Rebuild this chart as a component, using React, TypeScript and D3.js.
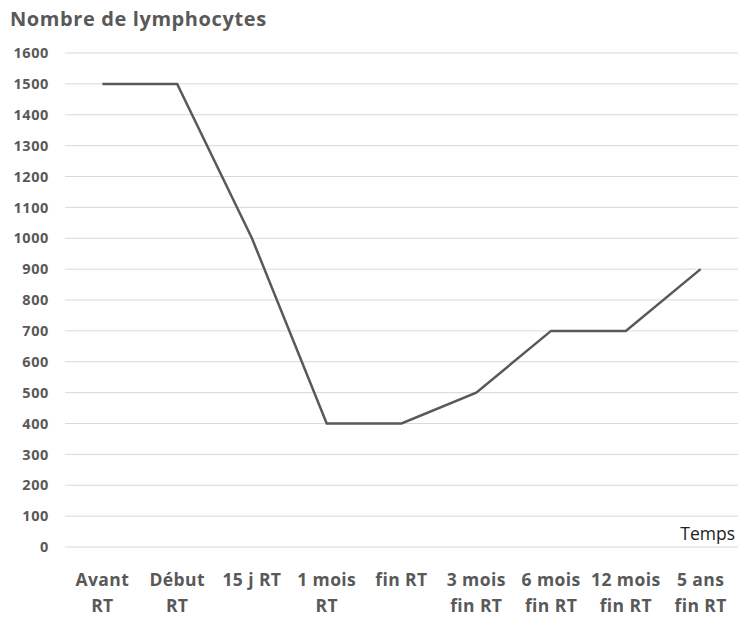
import React from "react";
import * as d3 from "d3";

// categories (two lines each) and values
const categories = [
  ["Avant", "RT"],
  ["Début", "RT"],
  ["15 j RT", ""],
  ["1 mois", "RT"],
  ["fin RT", ""],
  ["3 mois", "fin RT"],
  ["6 mois", "fin RT"],
  ["12 mois", "fin RT"],
  ["5 ans", "fin RT"],
];
const lymphocytes = [1500, 1500, 1000, 400, 400, 500, 700, 700, 900];
const yTicks = [0, 100, 200, 300, 400, 500, 600, 700, 800, 900, 1000, 1100, 1200, 1300, 1400, 1500, 1600];

const W = 738;
const H = 621;
const FONT = "'Open Sans', sans-serif";
const GREY = "#595959";

export default function App() {
  const x = d3
    .scaleBand<number>()
    .domain(d3.range(categories.length))
    .range([65, 738]);
  const y = d3.scaleLinear().domain([0, 1600]).range([547, 53]);

  const cx = (i: number) => (x(i) ?? 0) + x.bandwidth() / 2;

  const line = d3
    .line<number>()
    .x((_, i) => cx(i))
    .y((d) => y(d));

  return (
    <svg
      width={W}
      height={H}
      style={{ position: "absolute", left: 0, top: 0, background: "#fff" }}
      fontFamily={FONT}
    >
      <text x={10} y={26} fontSize={20} fontWeight="bold" fill={GREY} letterSpacing={0.6}>
        Nombre de lymphocytes
      </text>

      {/* grid + y labels */}
      {yTicks.map((t) => (
        <g key={t}>
          <line x1={65} x2={738} y1={y(t)} y2={y(t)} stroke="#d9d9d9" strokeWidth={1} />
          <text
            x={49}
            y={y(t)}
            dy="0.36em"
            textAnchor="end"
            fontSize={14.5}
            fontWeight="bold"
            fill={GREY}
            letterSpacing={0.6}
          >
            {t}
          </text>
        </g>
      ))}

      <path d={line(lymphocytes) ?? ""} fill="none" stroke={GREY} strokeWidth={2.5} />

      {/* x labels */}
      {categories.map((c, i) => (
        <g key={i} fontSize={17.5} fontWeight="bold" fill={GREY} textAnchor="middle" letterSpacing={0.4}>
          <text x={cx(i)} y={586}>
            {c[0]}
          </text>
          <text x={cx(i)} y={612}>
            {c[1]}
          </text>
        </g>
      ))}

      <text x={735} y={540} textAnchor="end" fontSize={17.5} fill="#222">
        Temps
      </text>
    </svg>
  );
}
